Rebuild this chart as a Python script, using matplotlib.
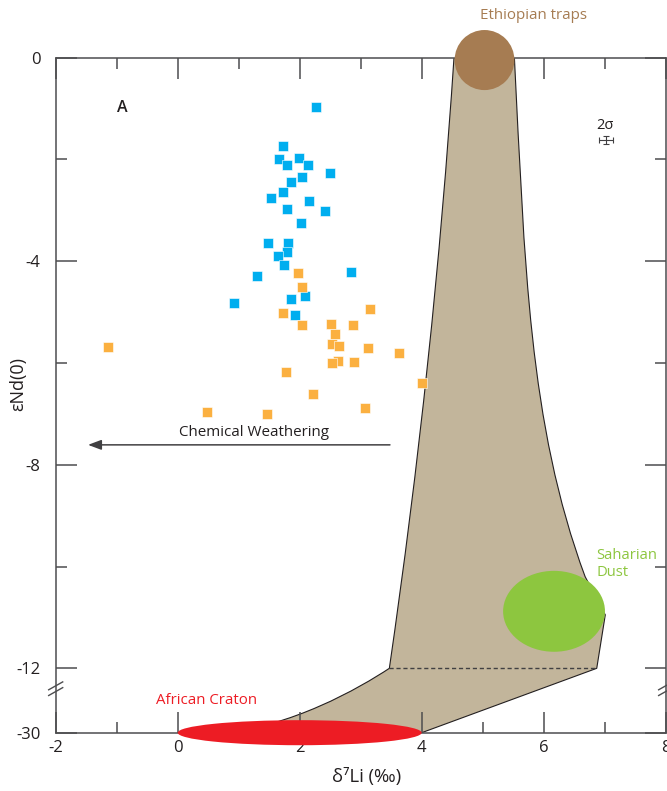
import numpy as np
import matplotlib
matplotlib.use("Agg")
import matplotlib.pyplot as plt
from matplotlib.patches import Ellipse, PathPatch
from matplotlib.path import Path

# --- data ---
blue_x = [2.27, 1.73, 1.66, 1.99, 1.79, 2.14, 2.49, 2.04, 1.85, 1.73, 1.53, 2.15, 1.80,
          2.41, 2.02, 1.48, 1.81, 1.80, 1.65, 1.74, 1.30, 2.84, 2.09, 1.86, 0.93, 1.93]
blue_y = [-0.98, -1.73, -1.99, -1.97, -2.11, -2.11, -2.27, -2.34, -2.45, -2.65, -2.76, -2.82, -2.98,
          -3.01, -3.26, -3.64, -3.64, -3.82, -3.89, -4.08, -4.29, -4.21, -4.68, -4.74, -4.82, -5.05]

orange_x = [2.53, 2.63, 1.98, 2.03, 1.72, 2.03, 3.16, 2.51, 2.87, 2.58, 2.65, 3.12, 2.53,
            2.89, 1.78, 2.22, 3.07, 1.46, -1.15, 0.48, 3.63, 4.00]
orange_y = [-5.63, -5.97, -4.24, -4.50, -5.01, -5.25, -4.95, -5.23, -5.25, -5.43, -5.66, -5.70, -6.01,
            -5.99, -6.18, -6.62, -6.88, -7.00, -5.69, -6.96, -5.81, -6.40]

# mixing envelope outline (vertices and curve handles), clockwise from top-left
envelope_x = [4.53, 5.52, 5.69, 5.75, 6.68, 7.01, 6.87, 4.00, 0.69, 1.84, 2.98, 3.47, 4.20, 4.53]
envelope_y = [0.0, 0.0, -4.0, -7.2, -10.2, -10.95, -12.0, -30.0, -30.0, -28.7, -17.5, -12.0, -6.0, 0.0]
envelope_codes = [Path.MOVETO, Path.LINETO, Path.CURVE4, Path.CURVE4, Path.CURVE4,
                  Path.LINETO, Path.LINETO, Path.LINETO, Path.LINETO,
                  Path.CURVE4, Path.CURVE4, Path.CURVE4, Path.CURVE3, Path.CURVE3]
# dashed line across the envelope at the axis break
break_x = [3.47, 6.87]
break_y = [-12.0, -12.0]

# end-members: centre x, centre y, width, height
ethiopian = (5.03, -0.05, 0.98, 1.18)
saharan = (6.17, -10.88, 1.67, 1.59)
craton = (2.0, -30.0, 4.0, 7.0)

xticks = [-2, 0, 2, 4, 6, 8]
yticks = [0, -4, -8, -12, -30]
ytick_labels = ["0", "-4", "-8", "-12", "-30"]

# broken y axis: below -12 the scale is squeezed
k = 1.265 / 18.0


def fwd(y):
    y = np.asarray(y, dtype=float)
    return np.where(y >= -12, y, -12 + (y + 12) * k)


def inv(u):
    u = np.asarray(u, dtype=float)
    return np.where(u >= -12, u, -12 + (u + 12) / k)


plt.rcParams["font.family"] = ["Open Sans", "DejaVu Sans"]
axis_col = "#4d4d4f"
dark = "#414042"
txt = "#231f20"

fig = plt.figure(figsize=(6.67, 7.91), dpi=100)
ax = fig.add_axes([0.0835, 0.0737, 0.9145, 0.8536])
ax.set_yscale("function", functions=(fwd, inv))
ax.set_xlim(-2, 8)
ax.set_ylim(-30, 0)

env_path = Path(np.column_stack([envelope_x, envelope_y]), envelope_codes)
ax.add_patch(PathPatch(env_path, facecolor="#c2b59b", edgecolor=txt,
                       linewidth=0.8, zorder=1))
ax.plot(break_x, break_y, color=dark, linewidth=1, dashes=(3, 2), zorder=2)

for (cx, cy, w, h), col in [(ethiopian, "#a67c52"), (saharan, "#8dc63f"), (craton, "#ed1c24")]:
    ax.add_patch(Ellipse((cx, cy), w, h, facecolor=col, edgecolor="none",
                         zorder=3, clip_on=False))

ax.scatter(blue_x, blue_y, marker="s", s=48, color="#00aeef",
           edgecolors="white", linewidths=0.4, zorder=4)
ax.scatter(orange_x, orange_y, marker="s", s=48, color="#fbb040",
           edgecolors="white", linewidths=0.4, zorder=4)

# chemical weathering arrow
ax.annotate("", xy=(-1.47, -7.61), xytext=(3.48, -7.61),
            arrowprops=dict(arrowstyle="-|>,head_length=0.8,head_width=0.3",
                            color=dark, linewidth=1.1, shrinkA=0, shrinkB=0))
ax.text(1.25, -7.37, "Chemical Weathering", fontsize=10.9, color=txt,
        ha="center", va="center")

ax.text(5.83, 0.82, "Ethiopian traps", fontsize=10.9, color="#a67c52",
        ha="center", va="center", clip_on=False)
ax.text(6.86, -9.95, "Saharian\nDust", fontsize=10.7, color="#8dc63f",
        ha="left", va="center", linespacing=1.1)
ax.text(0.47, -21.1, "African Craton", fontsize=10.8, color="#ed1c24",
        ha="center", va="center")
ax.text(-0.91, -0.99, "A", fontsize=11.5, fontweight="semibold", color=txt,
        ha="center", va="center")

# 2 sigma error
ax.text(7.0, -1.33, "2σ", fontsize=10.5, color=txt, ha="center", va="center")
ax.errorbar([7.02], [-1.62], xerr=0.115, yerr=0.08, color=dark, linewidth=0.8,
            capsize=2, capthick=0.8)

# axes styling
for sp in ax.spines.values():
    sp.set_color(axis_col)
    sp.set_linewidth(1.1)

ax.set_xticks(xticks)
ax.set_xticks([-1, 1, 3, 5, 7], minor=True)
ax.set_xticklabels([str(v) for v in xticks])
ax.set_yticks(yticks)
ax.set_yticklabels(ytick_labels)
ax.set_yticks([-2, -6, -10], minor=True)
ax.tick_params(which="both", direction="in", top=True, right=True,
               color=axis_col, width=1.1, labelsize=12, labelcolor=txt)
ax.tick_params(which="major", length=15)
ax.tick_params(which="minor", length=8)
ax.tick_params(axis="y", pad=11)
ax.tick_params(axis="x", pad=5)

ax.set_xlabel("δ\u2077Li (‰)", fontsize=13.3, color=txt)
ax.xaxis.set_label_coords(0.509, -0.053)
ax.set_ylabel("εNd(0)", fontsize=13, color=txt)
ax.yaxis.set_label_coords(-0.046, 0.517)

# axis break marks
tr = ax.get_yaxis_transform()
for xs in (0.0, 1.0):
    for yb in (-16.9, -18.5):
        ax.plot([xs - 0.0115, xs + 0.0115], [yb - 1.1, yb + 1.1], color=axis_col,
                linewidth=1.0, transform=tr, clip_on=False, zorder=5)

fig.savefig("out.png", dpi=100)
